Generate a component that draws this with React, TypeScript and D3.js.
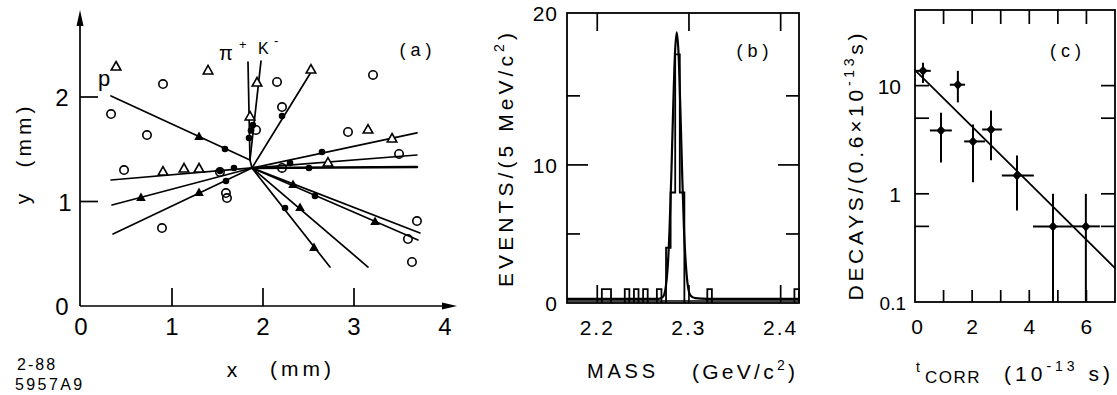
import React from 'react';
import * as d3 from 'd3';

// ---------------- Panel (a): event display ----------------
const primaryVertex = [1.879, 1.321];
const decayVertex = [1.857, 1.397];
// tracks leaving the primary vertex (far ends)
const trackEndX = [2.549, 3.692, 3.692, 3.692, 3.725, 3.703, 3.154, 2.736, 0.33, 0.341, 0.352];
const trackEndY = [2.268, 1.656, 1.445, 1.33, 0.699, 0.632, 0.373, 0.373, 1.206, 0.967, 0.689];
// decay tracks (p, pi+, K-) leaving the decay vertex
const decayTrackEndX = [0.33, 1.835, 1.978];
const decayTrackEndY = [2.01, 2.335, 2.344];

const filledTriX = [1.297, 2.33, 3.231, 2.407, 2.56, 0.659, 1.297];
const filledTriY = [1.617, 1.158, 0.804, 0.938, 0.555, 1.033, 1.081];
const filledDotX = [1.582, 2.648, 2.297, 2.505, 2.571, 2.242, 1.593, 1.527, 1.681, 1.89, 1.846, 1.868, 2.209];
const filledDotY = [1.502, 1.474, 1.368, 1.321, 1.053, 0.938, 1.196, 1.292, 1.321, 1.732, 1.608, 1.68, 1.818];
const openTriX = [0.385, 1.396, 1.934, 1.857, 2.527, 3.154, 3.418, 2.714, 0.901, 1.132, 1.297];
const openTriY = [2.287, 2.249, 2.134, 1.809, 2.258, 1.684, 1.598, 1.368, 1.282, 1.311, 1.311];
const openCircX = [0.901, 0.33, 0.725, 0.473, 2.154, 2.209, 1.923, 3.209, 2.934, 3.495, 2.209, 3.692, 3.593, 3.637, 1.593, 1.604, 0.89, 1.527];
const openCircY = [2.124, 1.837, 1.636, 1.301, 2.144, 1.904, 1.684, 2.211, 1.665, 1.455, 1.321, 0.813, 0.641, 0.421, 1.081, 1.033, 0.746, 1.282];

const xTicksA = [0, 1, 2, 3, 4];
const yTicksA = [0, 1, 2];

// ---------------- Panel (b): mass histogram ----------------
const binWidth = 0.005;
const massBinStart = [2.205, 2.21, 2.23, 2.24, 2.25, 2.265, 2.275, 2.28, 2.285, 2.29, 2.32, 2.415];
const massBinCount = [1, 1, 1, 1, 1, 1, 4, 8, 18, 8, 1, 1];
const fitMass = [2.167, 2.267, 2.2717, 2.2747, 2.2767, 2.2787, 2.2807, 2.2827, 2.2847, 2.2867, 2.2887, 2.2907, 2.2927, 2.2947, 2.2967, 2.2987, 2.3017, 2.307, 2.32, 2.42];
const fitEvents = [0.3, 0.3, 0.45, 1.15, 2.5, 5.1, 9.1, 13.9, 18.0, 19.6, 18.0, 13.9, 9.1, 5.1, 2.7, 1.3, 0.55, 0.35, 0.3, 0.3];
const xTicksB = [2.2, 2.3, 2.4];
const yTicksB = [5, 10, 15];
const yTickLabelsB = [0, 10, 20];

// ---------------- Panel (c): proper time ----------------
const tCorr = [0.28, 0.91, 1.5, 2.03, 2.66, 3.57, 4.83, 5.98];
const decays = [13.7, 3.85, 10.2, 3.05, 3.93, 1.48, 0.5, 0.5];
const tLo = [0, 0.52, 1.22, 1.72, 2.35, 3.04, 4.13, 5.49];
const tHi = [0.55, 1.29, 1.75, 2.45, 3.04, 4.16, 5.49, 6.47];
const decLo = [10.6, 1.95, 7.0, 1.28, 2.04, 0.7, 0.1, 0.1];
const decHi = [16.3, 5.6, 13.7, 4.37, 5.9, 2.26, 1.0, 1.0];
const fitT = [0, 7];
const fitDecays = [13.9, 0.206];
const xTicksC = [1, 2, 3, 4, 5, 6];
const xTickLabelsC = [0, 2, 4, 6];
const yTicksC = [0.5, 1, 5, 10];
const yTickLabelsC = ['0.1', '1', '10'];

const FONT = '"Liberation Sans", Arial, sans-serif';
const SW = 1.7;

export default function App() {
  // scales
  const xA = d3.scaleLinear().domain([0, 4]).range([81, 445]);
  const yA = d3.scaleLinear().domain([0, 2]).range([306, 97]);
  const xB = d3.scaleLinear().domain([2.167, 2.42]).range([567, 799]);
  const yB = d3.scaleLinear().domain([0, 21]).range([303, 13]);
  const xC = d3.scaleLinear().domain([0, 7]).range([915, 1115]);
  const yC = d3.scaleLog().domain([0.1, 50]).range([302, 10]);

  const lineA = d3.line<[number, number]>().x((d) => xA(d[0])).y((d) => yA(d[1]));

  // histogram outline
  let hist = '';
  let prevEnd: number | null = null;
  massBinStart.forEach((s, i) => {
    const e = s + binWidth;
    const c = massBinCount[i];
    if (prevEnd === null || Math.abs(s - prevEnd) > 1e-6) {
      if (prevEnd !== null) hist += `V${yB(0)}`;
      hist += `M${xB(s)},${yB(0)}`;
    }
    hist += `V${yB(c)}H${xB(e)}`;
    prevEnd = e;
  });
  hist += `V${yB(0)}`;

  const fitLineB = d3
    .line<number>()
    .x((_, i) => xB(fitMass[i]))
    .y((d) => yB(d))
    .curve(d3.curveMonotoneX)(fitEvents);

  const triPath = 'M0,-5.5L4.8,3L-4.8,3Z';
  const diamond = 'M0,-5L4.5,0L0,5L-4.5,0Z';

  const xAxisEnd = 457;
  const yAxisTop = 10;

  return (
    <svg
      width={1117}
      height={395}
      style={{ position: 'absolute', left: 0, top: 0, background: '#fff' }}
      fontFamily={FONT}
    >
      <rect x={0} y={0} width={1117} height={395} fill="#fff" />

      {/* ================= Panel (a) ================= */}
      <g stroke="#000" strokeWidth={SW} fill="none">
        <line x1={80} y1={yA(0)} x2={xAxisEnd - 10} y2={yA(0)} />
        <line x1={80} y1={yA(0)} x2={80} y2={yAxisTop + 10} />
        {xTicksA.filter((v) => v > 0 && v < 4).map((v) => (
          <line key={'xt' + v} x1={xA(v)} x2={xA(v)} y1={yA(0)} y2={yA(0) - 18} />
        ))}
        {yTicksA.filter((v) => v > 0).map((v) => (
          <line key={'yt' + v} x1={80} x2={98} y1={yA(v)} y2={yA(v)} />
        ))}
      </g>
      <path d={`M${xAxisEnd},${yA(0)}L${xAxisEnd - 15},${yA(0) - 3.5}L${xAxisEnd - 15},${yA(0) + 3.5}Z`} fill="#000" />
      <path d={`M80,${yAxisTop}L76.5,${yAxisTop + 16}L83.5,${yAxisTop + 16}Z`} fill="#000" />

      <g fontSize={24} fill="#000" textAnchor="middle">
        {xTicksA.map((v) => (
          <text key={'xl' + v} x={xA(v)} y={335}>{v}</text>
        ))}
        {yTicksA.map((v) => (
          <text key={'yl' + v} x={v === 1 ? 65 : 62} y={yA(v) + 9}>{v}</text>
        ))}
      </g>

      {/* tracks */}
      <g stroke="#000" fill="none" strokeLinecap="round">
        {trackEndX.map((x, i) => (
          <path
            key={'tr' + i}
            d={lineA([[primaryVertex[0], primaryVertex[1]], [x, trackEndY[i]]]) || ''}
            strokeWidth={i === 3 ? 2.6 : SW}
          />
        ))}
        {decayTrackEndX.map((x, i) => (
          <path
            key={'dt' + i}
            d={lineA([[decayVertex[0], decayVertex[1]], [x, decayTrackEndY[i]]]) || ''}
            strokeWidth={SW}
          />
        ))}
        <path d={lineA([[decayVertex[0], decayVertex[1]], [primaryVertex[0], primaryVertex[1]]]) || ''} strokeWidth={SW} />
      </g>

      {/* markers */}
      <g>
        {openCircX.map((x, i) => (
          <circle key={'oc' + i} cx={xA(x)} cy={yA(openCircY[i])} r={4.2} fill="none" stroke="#000" strokeWidth={1.6} />
        ))}
        {openTriX.map((x, i) => (
          <path key={'ot' + i} d={triPath} transform={`translate(${xA(x)},${yA(openTriY[i])})`} fill="#fff" stroke="#000" strokeWidth={1.6} />
        ))}
        {filledTriX.map((x, i) => (
          <path key={'ft' + i} d={triPath} transform={`translate(${xA(x)},${yA(filledTriY[i])})`} fill="#000" />
        ))}
        {filledDotX.map((x, i) => (
          <circle key={'fd' + i} cx={xA(x)} cy={yA(filledDotY[i])} r={3.3} fill="#000" />
        ))}
      </g>

      <g fill="#000">
        <text x={104} y={86} fontSize={22} textAnchor="middle">p</text>
        <text x={219} y={60} fontSize={20}>π</text>
        <text x={239} y={49} fontSize={13}>+</text>
        <text x={258} y={54} fontSize={16}>K</text>
        <text x={274} y={45} fontSize={13}>-</text>
        <text x={418} y={56} fontSize={18} textAnchor="middle" letterSpacing={5}>(a)</text>
        <text x={232} y={377} fontSize={21} textAnchor="middle">x</text>
        <text x={270} y={376} fontSize={21} letterSpacing={4}>(mm)</text>
        <text transform="translate(30,199) rotate(-90)" fontSize={21} textAnchor="middle">y</text>
        <text transform="translate(31,135) rotate(-90)" fontSize={21} textAnchor="middle" letterSpacing={4}>(mm)</text>
        <text x={17} y={370} fontSize={16} letterSpacing={2}>2-88</text>
        <text x={15} y={390} fontSize={16} letterSpacing={2.4}>5957A9</text>
      </g>

      {/* ================= Panel (b) ================= */}
      <g stroke="#000" fill="none">
        <rect x={567} y={13} width={232} height={290} strokeWidth={1.8} />
        {yTicksB.map((v) => {
          const len = v === 10 ? 21 : 13;
          return (
            <g key={'byt' + v} strokeWidth={SW}>
              <line x1={567} x2={567 + len} y1={yB(v)} y2={yB(v)} />
              <line x1={799} x2={799 - len} y1={yB(v)} y2={yB(v)} />
            </g>
          );
        })}
        {xTicksB.map((v) => (
          <g key={'bxt' + v} strokeWidth={SW}>
            <line x1={xB(v)} x2={xB(v)} y1={13} y2={31} />
            <line x1={xB(v)} x2={xB(v)} y1={303} y2={285} />
          </g>
        ))}
        <line x1={567} x2={799} y1={yB(0) - 2} y2={yB(0) - 2} strokeWidth={1.6} />
        <path d={hist} strokeWidth={1.8} />
        <path d={fitLineB || ''} strokeWidth={2.2} />
      </g>
      <g fill="#000" fontSize={21}>
        {yTickLabelsB.map((v, i) => (
          <text
            key={'byl' + v}
            x={558}
            y={(i === yTickLabelsB.length - 1 ? yB.range()[1] : yB(v)) + 8}
            textAnchor="end"
            letterSpacing={1}
          >
            {v}
          </text>
        ))}
        {xTicksB.map((v) => (
          <text key={'bxl' + v} x={xB(v)} y={335} textAnchor="middle" letterSpacing={2}>
            {v.toFixed(1)}
          </text>
        ))}
        <text x={755} y={57} fontSize={18} textAnchor="middle" letterSpacing={5}>(b)</text>
        <text x={587} y={378} fontSize={20} textLength={68} lengthAdjust="spacing">MASS</text>
        <text x={692} y={379} fontSize={21} textLength={103} lengthAdjust="spacing">
          (GeV/c<tspan dy={-9} fontSize={14}>2</tspan>
          <tspan dy={9}>)</tspan>
        </text>
        <text
          transform="translate(513,160) rotate(-90)"
          textAnchor="middle"
          fontSize={21}
          textLength={254}
          lengthAdjust="spacing"
        >
          EVENTS/(5 MeV/c<tspan dy={-9} fontSize={14}>2</tspan>
          <tspan dy={9}>)</tspan>
        </text>
      </g>

      {/* ================= Panel (c) ================= */}
      <g stroke="#000" fill="none">
        <rect x={915} y={10} width={200} height={292} strokeWidth={1.8} />
        {yTicksC.map((v) => (
          <g key={'cyt' + v} strokeWidth={SW}>
            <line x1={915} x2={929} y1={yC(v)} y2={yC(v)} />
            <line x1={1115} x2={1101} y1={yC(v)} y2={yC(v)} />
          </g>
        ))}
        {xTicksC.map((v) => (
          <g key={'cxt' + v} strokeWidth={SW}>
            <line x1={xC(v)} x2={xC(v)} y1={10} y2={24} />
            <line x1={xC(v)} x2={xC(v)} y1={302} y2={290} />
          </g>
        ))}
        <path
          d={
            d3
              .line<number>()
              .x((_, i) => xC(fitT[i]))
              .y((d) => yC(d))(fitDecays) || ''
          }
          strokeWidth={1.8}
        />
        {tCorr.map((t, i) => (
          <g key={'cp' + i} strokeWidth={2}>
            <line x1={xC(tLo[i])} x2={xC(tHi[i])} y1={yC(decays[i])} y2={yC(decays[i])} />
            <line x1={xC(t)} x2={xC(t)} y1={yC(decLo[i])} y2={yC(decHi[i])} />
          </g>
        ))}
      </g>
      <g fill="#000">
        {tCorr.map((t, i) => (
          <path key={'cd' + i} d={diamond} transform={`translate(${xC(t)},${yC(decays[i])})`} />
        ))}
      </g>
      <g fill="#000" fontSize={21}>
        {yTickLabelsC.map((s) => (
          <text key={'cyl' + s} x={s === '0.1' ? 906 : 901} y={yC(+s) + 8} textAnchor="end" fontSize={s === '0.1' ? 19 : 21}>
            {s}
          </text>
        ))}
        {xTickLabelsC.map((v) => (
          <text key={'cxl' + v} x={xC(v) + (v === 0 ? 2 : 0)} y={334} textAnchor="middle">{v}</text>
        ))}
        <text x={1068} y={57} fontSize={18} textAnchor="middle" letterSpacing={5}>(c)</text>
        <text x={916} y={372} fontSize={14}>t</text>
        <text x={925} y={383} fontSize={17} letterSpacing={1.5}>CORR</text>
        <text x={1004} y={381} fontSize={21} textLength={106} lengthAdjust="spacing">
          (10<tspan dy={-10} fontSize={14}>-13</tspan>
          <tspan dy={10}> s)</tspan>
        </text>
        <text
          transform="translate(863,167) rotate(-90)"
          textAnchor="middle"
          fontSize={21}
          textLength={267}
          lengthAdjust="spacing"
        >
          DECAYS/(0.6×10<tspan dy={-9} fontSize={14}>-13</tspan>
          <tspan dy={9}>s)</tspan>
        </text>
      </g>
    </svg>
  );
}
